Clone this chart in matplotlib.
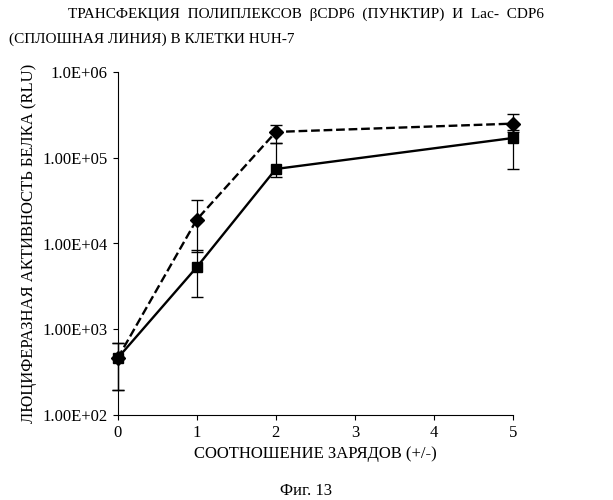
import matplotlib
matplotlib.use("Agg")
from matplotlib import pyplot as plt
import matplotlib.ticker as mt

plt.rcParams['font.family'] = 'Liberation Serif'

x = [0, 1, 2, 5]
dash_y = [460, 19000, 200000, 250000]
dash_lo = [195, 8000, 150000, 200000]
dash_hi = [690, 32000, 240000, 320000]
solid_y = [460, 5300, 74000, 170000]
solid_lo = [195, 2400, 60000, 74000]
solid_hi = [690, 8400, 150000, 210000]

fig = plt.figure(figsize=(6.13, 5.0), dpi=100)
ax = fig.add_axes([0.192, 0.17, 0.645, 0.686])

def err(y, lo, hi):
    return [[a - b for a, b in zip(y, lo)], [b - a for a, b in zip(y, hi)]]

for yv, lo, hi, fmt in [(dash_y, dash_lo, dash_hi, 'D--'), (solid_y, solid_lo, solid_hi, 's-')]:
    cont = ax.errorbar(x, yv, yerr=err(yv, lo, hi), fmt=fmt, color='black',
                       ms=7, lw=1.7, capsize=4, elinewidth=0.9)
    for art in cont.get_children():
        art.set_clip_on(False)

ax.set_yscale('log')
ax.set_ylim(100, 1e6)
ax.set_xlim(0, 5)
ax.set_xticks(range(6))
ax.yaxis.set_major_formatter(mt.FuncFormatter(lambda v, p: '%.2E' % v if v < 1e6 else '1.0E+06'))
ax.yaxis.set_minor_locator(mt.NullLocator())
for s in ['top', 'right']:
    ax.spines[s].set_visible(False)
ax.tick_params(direction='out', labelsize=12)
ax.set_xlabel('СООТНОШЕНИЕ ЗАРЯДОВ (+/-)', fontsize=12)
ax.set_ylabel('ЛЮЦИФЕРАЗНАЯ АКТИВНОСТЬ БЕЛКА (RLU)', fontsize=12)

fig.text(0.5, 0.965, 'ТРАНСФЕКЦИЯ  ПОЛИПЛЕКСОВ  βCDP6  (ПУНКТИР)  И  Lac-  CDP6',
         ha='center', fontsize=11)
fig.text(0.015, 0.915, '(СПЛОШНАЯ ЛИНИЯ) В КЛЕТКИ HUH-7', ha='left', fontsize=11)
fig.text(0.5, 0.01, 'Фиг. 13', ha='center', fontsize=12)

fig.savefig('out.png', dpi=100)
